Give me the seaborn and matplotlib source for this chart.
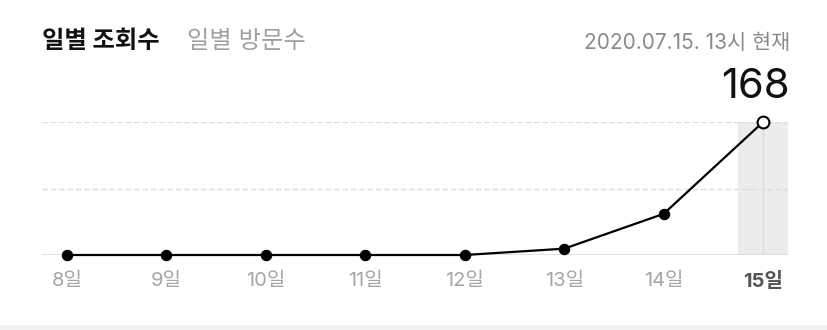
import matplotlib
matplotlib.use("Agg")
import matplotlib.pyplot as plt
import seaborn as sns
import pandas as pd

days = ["8일", "9일", "10일", "11일", "12일", "13일", "14일", "15일"]
views = [0, 0, 0, 0, 0, 8, 52, 168]
title_active = "일별 조회수"
title_inactive = "일별 방문수"
timestamp = "2020.07.15. 13시 현재"

sns.set_style("white")
FAM = ['Inter', 'Noto Sans CJK KR', 'DejaVu Sans']
plt.rcParams['font.family'] = FAM

W, H = 828, 330
fig = plt.figure(figsize=(W / 100, H / 100), dpi=100)
fig.patch.set_facecolor("white")

x0, x1 = 42, 788
ytop, ybot = 122, 255
ax = fig.add_axes([x0 / W, 1 - ybot / H, (x1 - x0) / W, (ybot - ytop) / H])

df = pd.DataFrame({"x": range(len(days)), "day": days, "views": views})
ymax = max(views)

# highlighted last day band
last = len(days) - 1
ax.axvspan(last - 0.25, last + 0.25, color="#ececec", zorder=0, lw=0)
ax.axvline(last, color="#dcdcdc", lw=1, zorder=0.5)

# gridlines
for gy in [ymax / 2, ymax]:
    ax.axhline(gy, color="#dddddd", lw=1, ls=(0, (4, 2)), zorder=0.6)
ax.axhline(0, color="#dddddd", lw=2, zorder=0.6)

sns.lineplot(data=df, x="x", y="views", ax=ax, color="black", lw=1.6,
             marker="o", markersize=7.5, markeredgecolor="black",
             markerfacecolor="black", zorder=3, clip_on=False)
ax.plot([last], [views[-1]], marker="o", ms=8.5, mfc="white", mec="black",
        mew=1.5, zorder=4, clip_on=False, ls="none")

ax.set_xlim(-0.25, last + 0.25)
ax.set_ylim(0, ymax)
ax.set_xticks(range(len(days)))
ax.set_xticklabels(days)
for i, lab in enumerate(ax.get_xticklabels()):
    if i == last:
        lab.set_color("#555555")
        lab.set_fontweight("bold")
    else:
        lab.set_color("#a6a6a6")
    lab.set_fontsize(14.5)
ax.tick_params(axis="x", length=0, pad=12)
ax.set_yticks([])
ax.set_xlabel("")
ax.set_ylabel("")
for s in ax.spines.values():
    s.set_visible(False)

# header texts
fig.text(x0 / W, 1 - 42 / H, title_active, fontsize=17.5, fontweight="bold",
         color="#111111", ha="left", va="center")
fig.text(187 / W, 1 - 42 / H, title_inactive, fontsize=17.5, color="#a0a0a0",
         ha="left", va="center")
fig.text(790 / W, 1 - 43 / H, timestamp, fontsize=15, color="#8a8a8a",
         ha="right", va="center")
fig.text(790 / W, 1 - 87 / H, str(ymax), fontsize=30, color="#111111",
         ha="right", va="center")

# bottom strip
strip = fig.add_axes([0, 0, 1, 5 / H])
strip.set_facecolor("#f2f2f2")
strip.set_xticks([]); strip.set_yticks([])
for s in strip.spines.values():
    s.set_visible(False)

fig.savefig("out.png", dpi=100)
